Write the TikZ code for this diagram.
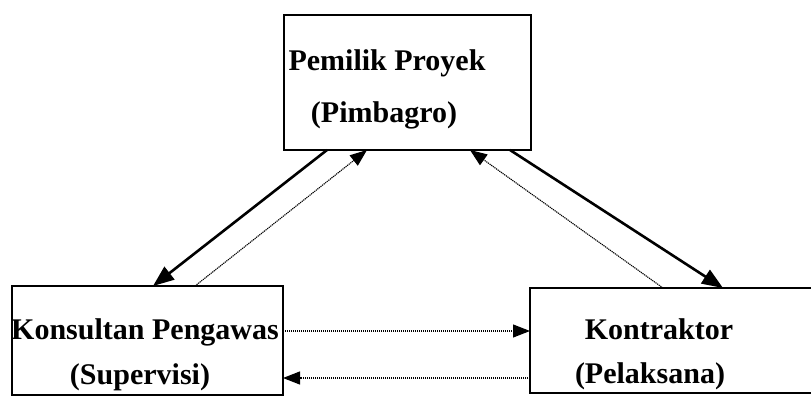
\documentclass[tikz,border=0pt]{standalone}
\usepackage{fontspec}
\setmainfont{Liberation Serif}
\usetikzlibrary{arrows.meta}
\tikzset{
	box/.style={draw, line width=1.5pt, inner sep=0pt, outer sep=0pt},
	label/.style={anchor=base, font=\bfseries\fontsize{30}{36}\selectfont, inner sep=0pt},
	tugas/.style={line width=2.6pt, -{Triangle[length=21pt, width=16pt]}},
	lapor/.style={line width=1.1pt, dash pattern=on 1.2pt off 0.8pt, -{Triangle[length=17pt, width=13pt]}}
}

\begin{document}
\begin{tikzpicture}[x=1pt, y=-1pt]
        \clip (0,0) rectangle (811,398);
        \fill[white] (0,0) rectangle (811,398);

        % Pemilik Proyek
        \node[box, minimum width=247pt, minimum height=135pt] (pemilik) at (407.5, 82.5) {};
        \node[label] (pemilik1) at (387, 71) {Pemilik Proyek};
        \node[label] (pemilik2) at (384, 123) {(Pimbagro)};

        % Konsultan Pengawas
        \node[box, minimum width=271pt, minimum height=109pt] (konsultan) at (147.5, 340.5) {};
        \node[label] (konsultan1) at (145, 339) {Konsultan Pengawas};
        \node[label] (konsultan2) at (140, 384) {(Supervisi)};

        % Kontraktor
        \node[box, minimum width=300pt, minimum height=105pt] (kontraktor) at (680, 340.5) {};
        \node[label] (kontraktor1) at (659, 339) {Kontraktor};
        \node[label] (kontraktor2) at (650, 383) {(Pelaksana)};

        % Arrows to and from the owner
        \draw[tugas] ([xshift=-80.5pt]pemilik.south) -- ([xshift=5.5pt]konsultan.north);
        \draw[lapor] ([xshift=47.5pt]konsultan.north) -- ([xshift=-40.5pt]pemilik.south);
        \draw[tugas] ([xshift=102.5pt]pemilik.south) -- ([xshift=43pt]kontraktor.north);
        \draw[lapor] ([xshift=-17pt]kontraktor.north) -- ([xshift=62.5pt]pemilik.south);

        % Arrows between consultant and contractor
        \draw[lapor] ([yshift=9.5pt]konsultan.east) -- ([yshift=9.5pt]konsultan.east -| kontraktor.west);
        \draw[lapor] ([yshift=-37.5pt]konsultan.east -| kontraktor.west) -- ([yshift=-37.5pt]konsultan.east);
    \end{tikzpicture}
\end{document}
